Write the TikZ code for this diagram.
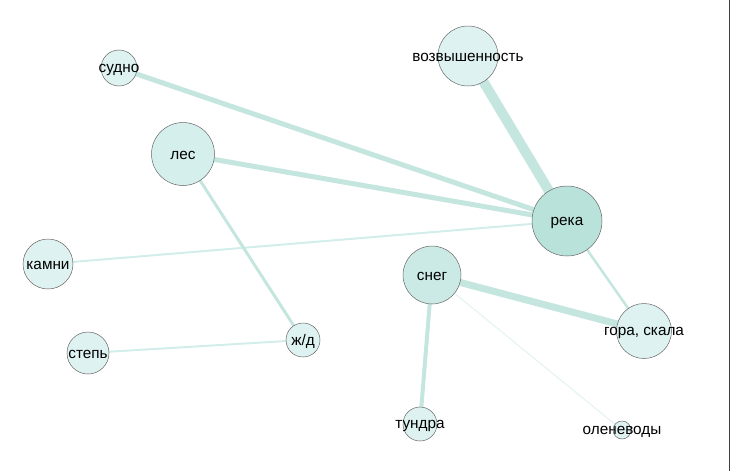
\documentclass[tikz,border=0pt]{standalone}
\usepackage{fontspec}
\setmainfont{Liberation Sans}
\usetikzlibrary{backgrounds}

\definecolor{nodefill}{HTML}{DEF2F1}
\definecolor{lesfill}{HTML}{D5EFEC}
\definecolor{snegfill}{HTML}{CCEAE5}
\definecolor{rekafill}{HTML}{B9E2DA}
\definecolor{linkcol}{HTML}{C4E6DF}
\definecolor{thinlink}{HTML}{D3EEEA}
\definecolor{faintlink}{HTML}{E2F2F0}

\tikzset{
	word/.style={circle, draw=black!60, line width=0.5pt, fill=nodefill, inner sep=0pt,
		label={[text=black, yshift=-1.5pt, font=\fontsize{15.3}{18}\selectfont]center:#1}},
	link/.style={draw=linkcol, line width=#1}
}

\begin{document}
\begin{tikzpicture}[x=1pt,y=-1pt]
		\useasboundingbox (0,0) rectangle (730,471);
		\draw[black!75, line width=0.8pt] (729,0) -- (729,471);

		\node[word=возвышенность, minimum size=60pt] (vozv) at (468,56) {};
		\node[word=река, minimum size=70pt, fill=rekafill] (reka) at (567,221) {};
		\node[word=снег, minimum size=58pt, fill=snegfill] (sneg) at (432,275) {};
		\node[word=судно, minimum size=36pt] (sudno) at (119,68) {};
		\node[word=лес, minimum size=63pt, fill=lesfill] (les) at (183,154) {};
		\node[word=камни, minimum size=50pt] (kamni) at (48,264) {};
		\node[word=степь, minimum size=42pt] (step) at (88,353) {};
		\node[word=ж/д, minimum size=34pt] (zhd) at (303,340) {};
		\node[word={гора, скала}, minimum size=55pt] (gora) at (644,331) {};
		\node[word=тундра, minimum size=34pt] (tundra) at (420,424) {};
		\node[word=оленеводы, minimum size=18pt] (olen) at (622,430) {};

		\begin{pgfonlayer}{background}
			\draw[link=10pt] (vozv.center) -- (reka.center);
			\draw[link=5pt] (sudno.center) -- (reka.center);
			\draw[link=5pt] (les.center) -- (reka.center);
			\draw[link=2pt, draw=thinlink] (kamni.center) -- (reka.center);
			\draw[link=3pt] (les.center) -- (zhd.center);
			\draw[link=2pt, draw=thinlink] (step.center) -- (zhd.center);
			\draw[link=2.5pt] (reka.center) -- (gora.center);
			\draw[link=7pt] (sneg.center) -- (gora.center);
			\draw[link=4pt] (sneg.center) -- (tundra.center);
			\draw[link=1pt, draw=faintlink] (sneg.center) -- (olen.center);
		\end{pgfonlayer}
	\end{tikzpicture}
\end{document}
